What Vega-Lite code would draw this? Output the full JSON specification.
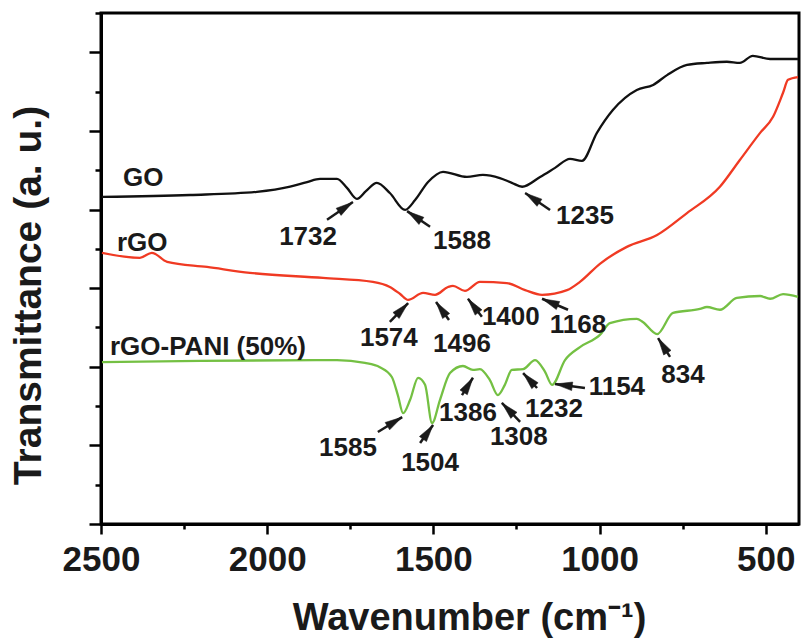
{
  "$schema": "https://vega.github.io/schema/vega-lite/v6.json",
  "width": 698,
  "height": 511,
  "autosize": "none",
  "padding": {"left": 101, "top": 13, "right": 4, "bottom": 117},
  "background": "white",
  "config": {
    "view": {"stroke": "black", "strokeWidth": 3},
    "font": "Liberation Sans",
    "axis": {"domainColor": "black", "domainWidth": 3, "tickColor": "black", "tickWidth": 2.5, "grid": false}
  },
  "datasets": {
    "spectra": [
      {"series": "GO", "wn": 2497, "t": 8.32}, {"series": "GO", "wn": 2232, "t": 8.37}, {"series": "GO", "wn": 2031, "t": 8.45},
      {"series": "GO", "wn": 1931, "t": 8.58}, {"series": "GO", "wn": 1880, "t": 8.70}, {"series": "GO", "wn": 1841, "t": 8.78},
      {"series": "GO", "wn": 1790, "t": 8.78}, {"series": "GO", "wn": 1760, "t": 8.55}, {"series": "GO", "wn": 1730, "t": 8.27},
      {"series": "GO", "wn": 1703, "t": 8.47}, {"series": "GO", "wn": 1670, "t": 8.68}, {"series": "GO", "wn": 1631, "t": 8.42},
      {"series": "GO", "wn": 1585, "t": 7.99}, {"series": "GO", "wn": 1555, "t": 8.24}, {"series": "GO", "wn": 1516, "t": 8.70},
      {"series": "GO", "wn": 1471, "t": 8.96}, {"series": "GO", "wn": 1399, "t": 8.83}, {"series": "GO", "wn": 1351, "t": 8.88},
      {"series": "GO", "wn": 1300, "t": 8.80}, {"series": "GO", "wn": 1264, "t": 8.68}, {"series": "GO", "wn": 1233, "t": 8.58},
      {"series": "GO", "wn": 1179, "t": 8.83}, {"series": "GO", "wn": 1134, "t": 9.06}, {"series": "GO", "wn": 1089, "t": 9.29},
      {"series": "GO", "wn": 1053, "t": 9.24}, {"series": "GO", "wn": 1008, "t": 9.95}, {"series": "GO", "wn": 960, "t": 10.53},
      {"series": "GO", "wn": 888, "t": 11.04}, {"series": "GO", "wn": 839, "t": 11.17}, {"series": "GO", "wn": 797, "t": 11.42},
      {"series": "GO", "wn": 737, "t": 11.68}, {"series": "GO", "wn": 677, "t": 11.73}, {"series": "GO", "wn": 617, "t": 11.76},
      {"series": "GO", "wn": 578, "t": 11.73}, {"series": "GO", "wn": 539, "t": 11.91}, {"series": "GO", "wn": 487, "t": 11.83},
      {"series": "GO", "wn": 403, "t": 11.83},

      {"series": "rGO", "wn": 2497, "t": 6.90}, {"series": "rGO", "wn": 2383, "t": 6.77}, {"series": "rGO", "wn": 2347, "t": 6.90},
      {"series": "rGO", "wn": 2301, "t": 6.67}, {"series": "rGO", "wn": 2181, "t": 6.54}, {"series": "rGO", "wn": 2052, "t": 6.39},
      {"series": "rGO", "wn": 1832, "t": 6.26}, {"series": "rGO", "wn": 1682, "t": 6.16}, {"series": "rGO", "wn": 1631, "t": 6.03},
      {"series": "rGO", "wn": 1600, "t": 5.85}, {"series": "rGO", "wn": 1576, "t": 5.70}, {"series": "rGO", "wn": 1531, "t": 5.88},
      {"series": "rGO", "wn": 1495, "t": 5.83}, {"series": "rGO", "wn": 1456, "t": 6.03}, {"series": "rGO", "wn": 1441, "t": 6.06},
      {"series": "rGO", "wn": 1405, "t": 5.93}, {"series": "rGO", "wn": 1360, "t": 6.16}, {"series": "rGO", "wn": 1279, "t": 6.13},
      {"series": "rGO", "wn": 1224, "t": 5.95}, {"series": "rGO", "wn": 1173, "t": 5.83}, {"series": "rGO", "wn": 1098, "t": 5.95},
      {"series": "rGO", "wn": 1059, "t": 6.16}, {"series": "rGO", "wn": 999, "t": 6.62}, {"series": "rGO", "wn": 918, "t": 7.05},
      {"series": "rGO", "wn": 827, "t": 7.35}, {"series": "rGO", "wn": 737, "t": 7.91}, {"series": "rGO", "wn": 638, "t": 8.58},
      {"series": "rGO", "wn": 578, "t": 9.26}, {"series": "rGO", "wn": 517, "t": 9.95}, {"series": "rGO", "wn": 478, "t": 10.36},
      {"series": "rGO", "wn": 448, "t": 10.97}, {"series": "rGO", "wn": 433, "t": 11.30}, {"series": "rGO", "wn": 403, "t": 11.37},

      {"series": "rGO-PANI", "wn": 2497, "t": 4.12}, {"series": "rGO-PANI", "wn": 2202, "t": 4.15}, {"series": "rGO-PANI", "wn": 1790, "t": 4.17},
      {"series": "rGO-PANI", "wn": 1706, "t": 4.10}, {"series": "rGO-PANI", "wn": 1661, "t": 3.99}, {"series": "rGO-PANI", "wn": 1625, "t": 3.74},
      {"series": "rGO-PANI", "wn": 1607, "t": 3.28}, {"series": "rGO-PANI", "wn": 1591, "t": 2.82}, {"series": "rGO-PANI", "wn": 1570, "t": 3.16},
      {"series": "rGO-PANI", "wn": 1546, "t": 3.72}, {"series": "rGO-PANI", "wn": 1525, "t": 3.54}, {"series": "rGO-PANI", "wn": 1504, "t": 2.57},
      {"series": "rGO-PANI", "wn": 1480, "t": 3.16}, {"series": "rGO-PANI", "wn": 1450, "t": 3.84}, {"series": "rGO-PANI", "wn": 1411, "t": 4.02},
      {"series": "rGO-PANI", "wn": 1381, "t": 3.92}, {"series": "rGO-PANI", "wn": 1360, "t": 3.94}, {"series": "rGO-PANI", "wn": 1330, "t": 3.66},
      {"series": "rGO-PANI", "wn": 1306, "t": 3.28}, {"series": "rGO-PANI", "wn": 1285, "t": 3.54}, {"series": "rGO-PANI", "wn": 1264, "t": 3.92},
      {"series": "rGO-PANI", "wn": 1230, "t": 3.94}, {"series": "rGO-PANI", "wn": 1194, "t": 4.17}, {"series": "rGO-PANI", "wn": 1164, "t": 3.87},
      {"series": "rGO-PANI", "wn": 1143, "t": 3.54}, {"series": "rGO-PANI", "wn": 1104, "t": 4.17}, {"series": "rGO-PANI", "wn": 1059, "t": 4.50},
      {"series": "rGO-PANI", "wn": 999, "t": 4.81}, {"series": "rGO-PANI", "wn": 969, "t": 5.11}, {"series": "rGO-PANI", "wn": 888, "t": 5.22},
      {"series": "rGO-PANI", "wn": 870, "t": 5.14}, {"series": "rGO-PANI", "wn": 827, "t": 4.83}, {"series": "rGO-PANI", "wn": 779, "t": 5.37},
      {"series": "rGO-PANI", "wn": 698, "t": 5.47}, {"series": "rGO-PANI", "wn": 677, "t": 5.52}, {"series": "rGO-PANI", "wn": 638, "t": 5.45},
      {"series": "rGO-PANI", "wn": 587, "t": 5.75}, {"series": "rGO-PANI", "wn": 517, "t": 5.80}, {"series": "rGO-PANI", "wn": 487, "t": 5.73},
      {"series": "rGO-PANI", "wn": 448, "t": 5.85}, {"series": "rGO-PANI", "wn": 403, "t": 5.78}
    ],
    "names": [
      {"name": "GO", "wn": 2434, "t": 8.80},
      {"name": "rGO", "wn": 2452, "t": 7.15},
      {"name": "rGO-PANI (50%)", "wn": 2473, "t": 4.50}
    ],
    "peaks": [
      {"label": "1732", "lx": 1877, "ly": 7.30, "x1": 1820, "y1": 7.74, "x2": 1742, "y2": 8.19},
      {"label": "1588", "lx": 1414, "ly": 7.20, "x1": 1510, "y1": 7.56, "x2": 1579, "y2": 7.96},
      {"label": "1235", "lx": 1044, "ly": 7.84, "x1": 1149, "y1": 7.99, "x2": 1224, "y2": 8.42},
      {"label": "1574", "lx": 1634, "ly": 4.73, "x1": 1631, "y1": 5.14, "x2": 1576, "y2": 5.62},
      {"label": "1496", "lx": 1414, "ly": 4.58, "x1": 1453, "y1": 5.19, "x2": 1492, "y2": 5.65},
      {"label": "1400", "lx": 1267, "ly": 5.27, "x1": 1354, "y1": 5.27, "x2": 1396, "y2": 5.73},
      {"label": "1168", "lx": 1065, "ly": 5.06, "x1": 1095, "y1": 5.45, "x2": 1173, "y2": 5.73},
      {"label": "1585", "lx": 1757, "ly": 1.93, "x1": 1667, "y1": 2.34, "x2": 1594, "y2": 2.72},
      {"label": "1504", "lx": 1510, "ly": 1.55, "x1": 1540, "y1": 2.06, "x2": 1501, "y2": 2.52},
      {"label": "1386", "lx": 1396, "ly": 2.82, "x1": 1414, "y1": 3.28, "x2": 1381, "y2": 3.72},
      {"label": "1308", "lx": 1243, "ly": 2.21, "x1": 1239, "y1": 2.60, "x2": 1294, "y2": 3.08},
      {"label": "1232", "lx": 1137, "ly": 2.93, "x1": 1188, "y1": 3.46, "x2": 1230, "y2": 3.84},
      {"label": "1154", "lx": 948, "ly": 3.49, "x1": 1044, "y1": 3.46, "x2": 1134, "y2": 3.56},
      {"label": "834", "lx": 749, "ly": 3.79, "x1": 788, "y1": 4.25, "x2": 824, "y2": 4.73}
    ]
  },
  "resolve": {"axis": {"x": "independent", "y": "independent"}},
  "layer": [
    {
      "data": {"name": "spectra"},
      "mark": {"type": "line", "strokeWidth": 2.3, "interpolate": "monotone"},
      "encoding": {
        "x": {"field": "wn", "type": "quantitative",
          "scale": {"domain": [400, 2500], "reverse": true, "nice": false, "zero": false},
          "axis": {"orient": "bottom", "values": [500, 1000, 1500, 2000, 2500], "format": "d", "tickSize": 10,
            "labelFontSize": 35, "labelFontWeight": "bold", "labelColor": "#1a1a1a", "labelPadding": 8, "labelFlush": false,
            "title": "Wavenumber (cm⁻¹)", "titleFontSize": 38, "titleFontWeight": "bold", "titleColor": "#1a1a1a",
            "titleX": 368, "titleY": 105, "titleBaseline": "alphabetic", "titleAlign": "center"}},
        "y": {"field": "t", "type": "quantitative",
          "scale": {"domain": [0, 13], "nice": false, "zero": false},
          "axis": {"orient": "left", "values": [0, 2, 4, 6, 8, 10, 12], "tickSize": 12, "labels": false,
            "title": "Transmittance (a. u.)", "titleFontSize": 39, "titleFontWeight": "bold", "titleColor": "#1a1a1a",
            "titleAngle": -90, "titleX": -73, "titleY": 282, "titleAlign": "center", "titleBaseline": "middle"}},
        "color": {"field": "series", "type": "nominal",
          "scale": {"domain": ["GO", "rGO", "rGO-PANI"], "range": ["#111111", "#f03a23", "#74c043"]},
          "legend": null}
      }
    },
    {
      "data": {"name": "names"},
      "mark": {"type": "text", "align": "left", "baseline": "middle", "fontSize": 26, "fontWeight": "bold", "color": "#1a1a1a"},
      "encoding": {
        "x": {"field": "wn", "type": "quantitative",
          "axis": {"orient": "bottom", "values": [750, 1250, 1750, 2250], "tickSize": 5, "labels": false, "domain": false, "title": null}},
        "y": {"field": "t", "type": "quantitative",
          "axis": {"orient": "left", "values": [1, 3, 5, 7, 9, 11, 13], "tickSize": 6, "labels": false, "domain": false, "title": null}},
        "text": {"field": "name"}
      }
    },
    {
      "data": {"name": "peaks"},
      "mark": {"type": "rule", "strokeWidth": 2.5, "color": "#1a1a1a"},
      "encoding": {
        "x": {"field": "x1", "type": "quantitative", "axis": null},
        "y": {"field": "y1", "type": "quantitative", "axis": null},
        "x2": {"field": "x2"},
        "y2": {"field": "y2"}
      }
    },
    {
      "data": {"name": "peaks"},
      "transform": [
        {"calculate": "atan2(-(datum.x2 - datum.x1) * 0.3324, (datum.y2 - datum.y1) * 39.3) * 180 / PI", "as": "ang"}
      ],
      "mark": {"type": "point", "shape": "M0,0L0.5,2L-0.5,2Z", "filled": true, "fill": "#1a1a1a", "stroke": "#1a1a1a", "strokeWidth": 0.5, "opacity": 1, "fillOpacity": 1, "size": 300},
      "encoding": {
        "x": {"field": "x2", "type": "quantitative", "axis": null},
        "y": {"field": "y2", "type": "quantitative", "axis": null},
        "angle": {"field": "ang", "type": "quantitative", "scale": null}
      }
    },
    {
      "data": {"name": "peaks"},
      "mark": {"type": "text", "align": "center", "baseline": "middle", "fontSize": 26, "fontWeight": "bold", "color": "#1a1a1a"},
      "encoding": {
        "x": {"field": "lx", "type": "quantitative", "axis": null},
        "y": {"field": "ly", "type": "quantitative", "axis": null},
        "text": {"field": "label"}
      }
    }
  ]
}
